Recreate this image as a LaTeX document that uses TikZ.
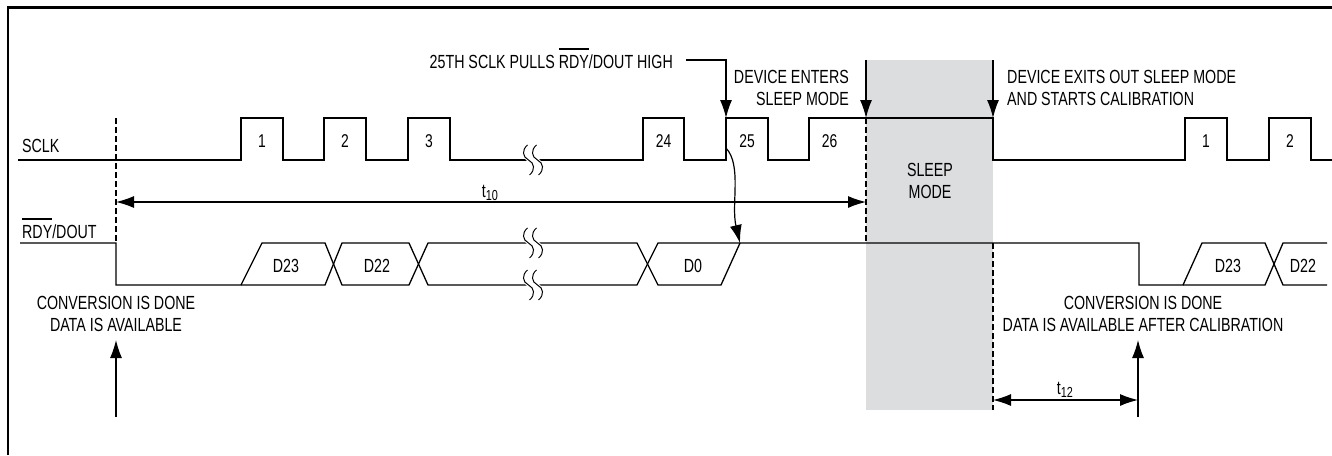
\documentclass[tikz,border=0pt]{standalone}
\usepackage{fontspec}
\setmainfont{Liberation Sans}[FakeStretch=0.75]
\usetikzlibrary{arrows.meta}
\newcommand{\myovl}[1]{\setbox0\hbox{#1}\rlap{\vrule width\wd0 height 19.8pt depth -18.6pt}#1}
\newcommand{\mysub}[1]{\raisebox{-2.5pt}{\fontsize{14.5}{14.5}\selectfont #1}}
\tikzset{
  brk/.pic={
    \draw[white, line width=9pt] (-1,15) .. controls (-7,10) and (-6,3) .. (0,0) .. controls (6,-3) and (7,-10) .. (1,-15);
    \draw[black, line width=1pt, xshift=-4.5pt] (-1,15) .. controls (-7,10) and (-6,3) .. (0,0) .. controls (6,-3) and (7,-10) .. (1,-15);
    \draw[black, line width=1pt, xshift=4.5pt] (-1,15) .. controls (-7,10) and (-6,3) .. (0,0) .. controls (6,-3) and (7,-10) .. (1,-15);
  }
}
\begin{document}
\begin{tikzpicture}[x=1pt,y=1pt,
  wave/.style={line width=1.3pt, line join=miter},
  dsh/.style={line width=1.1pt, dash pattern=on 6pt off 3pt},
  arr/.style={line width=1.2pt, -{Latex[length=18pt,width=12pt]}},
  darr/.style={line width=1.2pt, {Latex[length=18pt,width=12pt]}-{Latex[length=18pt,width=12pt]}},
  lbl/.style={inner sep=0pt, text height=13.5pt, text depth=0pt, font=\fontsize{19}{22}\selectfont},
  num/.style={inner sep=0pt, text height=12.5pt, text depth=0pt, font=\fontsize{18.5}{20}\selectfont},
  ml/.style={inner sep=0pt, font=\fontsize{19}{21.5}\selectfont}]
\useasboundingbox (0,0) rectangle (1332,-455);
% frame
\draw[line width=2.4pt] (8,-455) -- (8,-7.5) -- (1332,-7.5);
% sleep area
\fill[fill={rgb,255:red,220;green,221;blue,223}] (866,-60) rectangle (993,-410);
% SCLK
\draw[wave] (18,-160) -- (241,-160) -- (241,-118) -- (283,-118) -- (283,-160) -- (324,-160) -- (324,-118) -- (366,-118) -- (366,-160) -- (408,-160) -- (408,-118) -- (450,-118) -- (450,-160) -- (643,-160) -- (643,-118) -- (684,-118) -- (684,-160) -- (726,-160) -- (726,-118) -- (768,-118) -- (768,-160) -- (809,-160) -- (809,-118) -- (993,-118) -- (993,-160) -- (1185,-160) -- (1185,-118) -- (1227,-118) -- (1227,-160) -- (1269,-160) -- (1269,-118) -- (1311,-118) -- (1311,-160) -- (1332,-160);
% RDY/DOUT
\draw[wave] (20,-243) -- (116,-243) -- (116,-285) -- (241,-285) -- (262,-243) -- (325,-243) -- (342,-285) -- (409,-285) -- (428,-243) -- (637,-243) -- (658,-285) -- (721,-285) -- (740,-243) -- (1139,-243) -- (1139,-285) -- (1183,-285) -- (1202,-243) -- (1265,-243) -- (1283,-285) -- (1327,-285);
\draw[wave] (241,-285) -- (325,-285) -- (342,-243) -- (409,-243) -- (428,-285) -- (637,-285) -- (658,-243) -- (740,-243);
\draw[wave] (1183,-285) -- (1265,-285) -- (1283,-243) -- (1327,-243);
% breaks
\pic at (533,-160) {brk};
\pic at (533,-243) {brk};
\pic at (533,-285) {brk};
% dashed markers
\draw[dsh] (116,-118) -- (116,-243);
\draw[dsh] (866,-118) -- (866,-243);
\draw[dsh] (993,-243) -- (993,-410);
% labels
\node[lbl, anchor=west] (sclk) at (22,-146) {SCLK};
\node[lbl, anchor=west] (rdy) at (22,-231.5) {\myovl{RDY}/DOUT};
\node[num] (p1) at (262,-141) {1};
\node[num] (p2) at (345,-141) {2};
\node[num] (p3) at (429,-141) {3};
\node[num] (p24) at (663.5,-141) {24};
\node[num] (p25) at (747,-141) {25};
\node[num] (p26) at (829.5,-141) {26};
\node[num] (q1) at (1206,-141) {1};
\node[num] (q2) at (1290,-141) {2};
\node[lbl] (d23) at (286,-266) {D23};
\node[lbl] (d22) at (377,-266) {D22};
\node[lbl] (d0) at (693,-266) {D0};
\node[lbl] (e23) at (1228,-266) {D23};
\node[lbl] (e22) at (1303,-266) {D22};
\node[lbl] (t10) at (490,-191) {t\mysub{10}};
\node[lbl] (t12) at (1065,-388) {t\mysub{12}};
\node[lbl, anchor=east] (n25) at (673,-61.5) {25TH SCLK PULLS \myovl{RDY}/DOUT HIGH};
\node[ml, align=right, anchor=north east] (nent) at (849,-70.5) {DEVICE ENTERS\\SLEEP MODE};
\node[ml, align=left, anchor=north west] (nexit) at (1007,-70.5) {DEVICE EXITS OUT SLEEP MODE\\AND STARTS CALIBRATION};
\node[ml, align=center, anchor=north] (nsleep) at (930,-163.5) {SLEEP\\MODE};
\node[ml, align=center, anchor=north] (nconv1) at (116,-296.5) {CONVERSION IS DONE\\DATA IS AVAILABLE};
\node[ml, align=center, anchor=north] (nconv2) at (1143,-296.5) {CONVERSION IS DONE\\DATA IS AVAILABLE AFTER CALIBRATION};
% coordinates
\coordinate (c25s) at (686,-60);
\coordinate (c25t) at (726,-118);
\coordinate (enS) at (866,-60);
\coordinate (enT) at (866,-118);
\coordinate (exS) at (993,-60);
\coordinate (exT) at (993,-118);
\coordinate (t10a) at (116,-202);
\coordinate (t10b) at (866,-202);
\coordinate (t12a) at (993,-400);
\coordinate (t12b) at (1138,-400);
\coordinate (u1s) at (116,-417);
\coordinate (u1t) at (116,-340);
\coordinate (u2s) at (1138,-417);
\coordinate (u2t) at (1138,-340);
\coordinate (cvs) at (726,-148);
\coordinate (cvt) at (740,-243);
% arrows
\draw[arr] (c25s) -| (c25t);
\draw[arr] (enS) -- (enT);
\draw[arr] (exS) -- (exT);
\draw[darr] (t10a) -- (t10b);
\draw[darr] (t12a) -- (t12b);
\draw[arr] (u1s) -- (u1t);
\draw[arr] (u2s) -- (u2t);
\draw[arr] (cvs) .. controls (742,-165) and (731,-205) .. (cvt);
\end{tikzpicture}
\end{document}
